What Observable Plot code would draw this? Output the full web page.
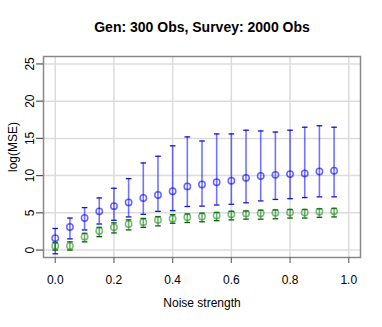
<!DOCTYPE html>
<html>
<head>
<meta charset="utf-8">
<script src="https://cdn.jsdelivr.net/npm/d3@7"></script>
<script src="https://cdn.jsdelivr.net/npm/@observablehq/plot@0.6"></script>
<style>
  html, body { margin: 0; padding: 0; background: #fff; }
</style>
</head>
<body>
<div id="chart"></div>
<script>
const title = "Gen: 300 Obs, Survey: 2000 Obs";
const xLabel = "Noise strength";
const yLabel = "log(MSE)";
const xTicks = [0, 0.2, 0.4, 0.6, 0.8, 1.0];
const yTicks = [0, 5, 10, 15, 20, 25];

const noise = [0, 0.05, 0.1, 0.15, 0.2, 0.25, 0.3, 0.35, 0.4, 0.45, 0.5, 0.55, 0.6, 0.65, 0.7, 0.75, 0.8, 0.85, 0.9, 0.95];

const blueMean = [1.6, 3.1, 4.3, 5.2, 5.9, 6.4, 7.0, 7.4, 7.9, 8.55, 8.8, 9.1, 9.3, 9.7, 9.95, 10.1, 10.2, 10.3, 10.55, 10.65];
const blueLo   = [-0.5, 1.5, 2.7, 3.5, 4.0, 4.45, 4.8, 5.2, 5.3, 5.85, 5.9, 6.05, 6.15, 6.35, 6.6, 6.8, 6.9, 7.05, 7.15, 7.15];
const blueHi   = [2.9, 4.3, 5.7, 7.0, 8.3, 9.6, 11.7, 12.6, 14.0, 15.2, 14.65, 15.6, 15.6, 16.1, 16.0, 15.85, 16.1, 16.5, 16.7, 16.5];

const greenMean = [0.55, 0.55, 1.8, 2.55, 3.05, 3.5, 3.75, 4.05, 4.2, 4.4, 4.5, 4.65, 4.8, 4.9, 4.95, 5.0, 5.05, 5.05, 5.15, 5.2];
const greenLo   = [0.0, 0.0, 1.1, 1.8, 2.3, 2.7, 3.05, 3.25, 3.6, 3.7, 3.8, 3.95, 4.05, 4.15, 4.15, 4.2, 4.3, 4.3, 4.4, 4.45];
const greenHi   = [1.0, 1.1, 2.25, 3.05, 3.65, 4.05, 4.25, 4.5, 4.75, 4.85, 4.95, 5.05, 5.2, 5.25, 5.35, 5.4, 5.45, 5.45, 5.55, 5.6];

const blueRows = noise.map((x, i) => ({x, mean: blueMean[i], lo: blueLo[i], hi: blueHi[i]}));
const greenRows = noise.map((x, i) => ({x, mean: greenMean[i], lo: greenLo[i], hi: greenHi[i]}));

const cap = {
  draw(context, size) {
    const r = Math.sqrt(size / Math.PI);
    context.moveTo(-r, 0);
    context.lineTo(r, 0);
  }
};

function series(rows, lineColor, capColor, dotColor) {
  return [
    Plot.ruleX(rows, {x: "x", y1: "lo", y2: "hi", stroke: lineColor, strokeOpacity: 0.55, strokeWidth: 1.6}),
    Plot.dot(rows, {x: "x", y: "lo", symbol: cap, r: 2.8, stroke: capColor, strokeWidth: 1.3}),
    Plot.dot(rows, {x: "x", y: "hi", symbol: cap, r: 2.8, stroke: capColor, strokeWidth: 1.3}),
    Plot.dot(rows, {x: "x", y: "mean", r: 3.2, stroke: dotColor, strokeOpacity: 0.6, strokeWidth: 1.5, fill: "none"})
  ];
}

const font = "'Liberation Sans', Arial, Helvetica, sans-serif";

const chart = Plot.plot({
  width: 382,
  height: 327,
  marginLeft: 43,
  marginRight: 22,
  marginTop: 56,
  marginBottom: 70,
  style: {fontFamily: font, fontSize: "12px", background: "#fff", color: "#000"},
  x: {domain: [-0.04, 1.04]},
  y: {domain: [-1, 26]},
  marks: [
    Plot.gridX({ticks: xTicks, stroke: "#dcdcdc", strokeOpacity: 1, strokeWidth: 1.5}),
    Plot.gridY({ticks: yTicks, stroke: "#dcdcdc", strokeOpacity: 1, strokeWidth: 1.5}),
    Plot.frame({stroke: "#888", strokeWidth: 1.5}),
    Plot.axisX({ticks: xTicks, tickSize: 6, tickPadding: 12, tickFormat: d3.format(".1f"), label: null, stroke: "#777", strokeWidth: 1.3}),
    Plot.axisY({ticks: yTicks, tickSize: 7, tickFormat: () => "", label: null, stroke: "#555", strokeWidth: 1.2}),
    Plot.text(yTicks, {y: d => d, text: d => String(d), frameAnchor: "left", dx: -13, rotate: -90, textAnchor: "middle", lineAnchor: "middle", fontSize: 12}),
    Plot.text([yLabel], {frameAnchor: "left", dx: -30, dy: -10, rotate: -90, textAnchor: "middle", lineAnchor: "middle", fontSize: 12}),
    Plot.text([xLabel], {frameAnchor: "bottom", dy: 46, lineAnchor: "middle", fontSize: 12}),
    Plot.text([title], {frameAnchor: "top", dy: -29, lineAnchor: "middle", fontSize: 14, fontWeight: "bold"}),
    ...series(blueRows, "blue", "#1010e0", "blue"),
    ...series(greenRows, "#0a6e0a", "#005f00", "#1f8f1f")
  ]
});

document.getElementById("chart").appendChild(chart);
</script>
</body>
</html>
